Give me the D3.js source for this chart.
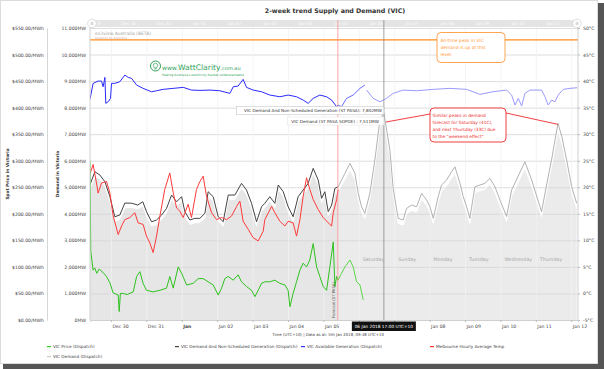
<!DOCTYPE html>
<html><head><meta charset="utf-8">
<script src="https://cdn.jsdelivr.net/npm/d3@7"></script>
<style>
html,body{margin:0;padding:0;background:#fff;}
svg{display:block;}
text{font-family:"DejaVu Sans",Verdana,sans-serif;}
</style></head><body>
<svg id="chart" width="604" height="369"></svg>
<script>
// ---------------- DATA ----------------
const chartTitle = "2-week trend Supply and Demand (VIC)";
const demandTicks = d3.range(0, 11001, 1000);
const priceTicks = d3.range(0, 551, 50);
const tempTicks = d3.range(-5, 51, 5);
const weekdays = [["2018-01-06","Saturday"],["2018-01-07","Sunday"],["2018-01-08","Monday"],["2018-01-09","Tuesday"],["2018-01-10","Wednesday"],["2018-01-11","Thursday"]];
const allTimePeakMW = 10550;
const nowHour = 177.8;      // 5 Jan 2018 09:48
const cursorHour = 209;     // 6 Jan 2018 17:00
const viewHours = [9.8, 340.6];

// hours since 29 Dec 2017 00:00 (UTC+10): [hour, demand+non-scheduled MW, demand MW]
const demandHist = [[9.7,5080,4950],[13.1,5585,5420],[16.5,5460,5300],[19.9,5210,5050],[23.3,4645,4480],[26.6,3890,3720],[30.0,3954,3790],[33.4,4405,4230],[38.0,4400,4240],[42.2,4330,4180],[45.6,4455,4300],[48.1,4080,3920],[51.5,3700,3540],[54.9,3766,3600],[58.3,3954,3780],[61.7,4205,4040],[65.1,4707,4540],[68.5,4455,4300],[71.9,4645,4480],[74.1,4080,3920],[77.5,3766,3600],[80.9,3830,3660],[84.3,3830,3670],[87.7,4018,3850],[89.9,4832,4650],[93.3,4645,4480],[96.7,3890,3730],[100.1,3702,3540],[103.5,4707,4530],[108.0,4707,4540],[112.5,5148,4970],[115.9,4896,4730],[119.3,4395,4230],[122.7,3702,3540],[126.1,4268,4100],[128.3,4395,4230],[131.7,4645,4480],[135.1,4395,4230],[137.4,5084,4900],[140.8,4832,4660],[144.1,4268,4100],[147.5,3890,3720],[150.9,4645,4480],[154.3,4896,4730],[157.7,5148,4970],[161.1,5713,5530],[164.5,5272,5100],[166.8,4582,4420],[169.0,4832,4660],[171.3,4080,3920],[173.6,4331,4160],[175.8,4960,4790],[178.0,5020,4850]];
// forecast: [hour, ST PASA demand+non-scheduled MW, ST PASA SOPOE demand MW]
const demandForecast = [[178.0,5020,4850],[182.6,5524,5300],[186.0,5901,5650],[189.4,5524,5300],[191.6,4771,4560],[193.9,4268,4060],[196.1,4018,3820],[199.5,4771,4560],[202.9,6026,5780],[206.3,7532,7250],[209.0,7802,7511],[213.1,6402,6150],[215.3,4960,4740],[218.7,3830,3640],[222.1,3766,3580],[224.4,4205,4000],[227.8,4331,4130],[231.2,4268,4070],[234.6,4771,4560],[238.0,4519,4320],[240.2,4268,4070],[242.5,3830,3640],[245.8,4645,4430],[248.1,5084,4860],[251.5,5272,5040],[254.9,5585,5340],[257.2,5773,5530],[260.6,5148,4930],[262.8,4645,4430],[265.1,4268,4070],[267.3,3830,3640],[270.7,5020,4800],[274.1,5084,4860],[277.5,5148,4930],[280.9,5336,5110],[284.3,5020,4800],[287.7,4519,4320],[292.2,3900,3710],[295.6,4896,4680],[299.9,5400,5170],[304.6,5961,5710],[309.2,5272,5040],[313.4,4519,4320],[315.9,4080,3890],[319.3,5084,4860],[322.9,6100,5850],[327.0,7407,7130],[329.7,6900,6640],[332.9,6026,5780],[336.3,5020,4800],[339.7,4395,4200]];
// Melbourne hourly average temp, degC
const tempHist = [[9.7,22.4],[11.9,24.3],[14.2,20.8],[15.3,18.9],[17.6,20.8],[21.0,21.1],[23.3,18.9],[25.5,14.6],[28.9,11.1],[31.2,12.7],[33.4,13.9],[36.8,14.3],[40.2,15.2],[42.4,13.3],[45.8,13.0],[48.1,10.8],[50.4,9.5],[52.6,7.7],[54.9,10.8],[57.2,14.6],[60.5,19.6],[63.9,22.7],[66.2,19.0],[68.5,16.1],[70.7,15.5],[73.0,14.3],[76.3,16.8],[78.6,14.3],[82.0,19.6],[84.3,21.1],[86.5,22.1],[88.8,18.3],[92.2,15.2],[95.6,13.9],[99.0,14.3],[102.4,13.9],[105.8,14.6],[109.2,16.4],[111.4,17.4],[113.6,13.6],[117.0,12.1],[120.4,10.5],[123.8,9.9],[127.2,11.7],[128.3,13.9],[132.9,16.4],[135.1,15.2],[138.5,13.6],[141.9,12.7],[144.1,13.6],[147.5,13.3],[149.8,10.8],[152.1,13.9],[154.3,18.3],[156.6,21.8],[158.8,19.6],[161.1,17.7],[164.5,15.8],[167.9,14.3],[171.3,13.3],[173.6,12.7],[174.7,15.2],[177.0,17.7],[178.0,19.6]];
// VIC price $/MWh
const priceHist = [[9.8,300],[10.3,130],[11.9,94],[13.0,98],[14.4,88],[16.0,96],[18.5,90],[21.0,82],[23.3,70],[25.5,51],[28.9,47],[29.6,16],[30.4,50],[32.3,50],[35.0,48],[39.1,53],[41.4,82],[43.6,91],[45.8,69],[48.1,56],[52.6,53],[57.2,56],[61.7,60],[63.9,82],[66.2,60],[69.6,100],[71.9,88],[75.3,66],[79.7,69],[83.1,78],[86.5,78],[89.9,72],[93.3,66],[96.7,47],[99.0,60],[101.2,78],[103.5,82],[106.9,75],[110.2,85],[112.5,72],[115.9,63],[119.3,56],[121.6,44],[123.8,56],[126.1,69],[128.3,72],[131.7,72],[135.1,75],[138.5,69],[141.9,66],[144.1,56],[145.3,25],[147.5,50],[149.8,72],[152.1,94],[154.3,107],[156.6,100],[158.8,113],[161.1,144],[163.4,100],[165.6,82],[167.9,63],[170.2,56],[172.4,100],[174.7,147],[175.8,63],[177.0,82],[178.0,75]];
const priceForecast = [[178.0,75],[180.3,88],[182.6,100],[186.0,113],[188.2,100],[190.5,72],[192.8,66],[195.0,38]];
// VIC available generation MW
const availHist = [[9.8,8311],[11.9,8914],[15.3,9001],[17.6,9001],[18.7,8786],[19.9,9140],[20.5,8161],[22.1,8221],[23.7,8349],[24.4,8914],[26.6,8914],[30.0,8975],[33.4,9227],[35.7,9140],[38.0,9102],[41.4,8850],[45.8,8726],[51.5,8598],[54.9,8636],[59.4,8688],[66.2,8726],[73.0,8763],[78.6,8662],[84.3,8650],[91.1,8662],[97.8,8636],[104.6,8537],[106.9,8786],[110.2,8812],[113.6,9065],[115.9,8763],[120.4,8662],[126.1,8598],[131.7,8474],[138.5,8410],[144.1,8474],[149.8,8410],[154.3,8285],[157.7,8161],[161.1,8349],[165.6,8474],[170.2,8410],[173.6,8285],[177.0,8033],[178.0,8097]];
const availNear = [[178.0,8097],[180.3,8033],[183.7,8349],[188.2,8474],[192.8,8726],[196.1,8850]];
const availForecast = [[197.3,8662],[201.8,8349],[206.3,8221],[210.8,8349],[215.3,8537],[222.1,8662],[231.2,8636],[242.5,8688],[253.8,8726],[265.1,8688],[274.1,8500],[282.9,8600],[292.2,8662],[295.6,8474],[297.9,8097],[300.1,8349],[302.4,8059],[304.6,8537],[308.0,8662],[315.9,8662],[318.2,8410],[320.4,8097],[322.7,8285],[325.0,8221],[327.2,8474],[330.6,8688],[335.1,8726],[340.1,8750]];
const legendItems = [["VIC Price (Dispatch)","#33cc22",0],["VIC Demand And Non-Scheduled Generation (Dispatch)","#444",0],["VIC Available Generation (Dispatch)","#3333ff",0],["Melbourne Hourly Average Temp","#ff3333",0],["VIC Demand (Dispatch)","#cccccc",1]];

// ---------------- CHART ----------------
const svg = d3.select("#chart");
const W = 604, H = 369, L = 90, R = 578, TOP = 28, BOT = 320;
const T0 = new Date(2017, 11, 29, 0, 0);
const hd = h => new Date(T0.getTime() + h * 3600e3);

const x = d3.scaleTime().domain(viewHours.map(hd)).range([L, R]);
const yMW = d3.scaleLinear().domain([0, 11000]).range([BOT, TOP]);
const yP = d3.scaleLinear().domain([0, 550]).range([BOT, TOP]);
const yT = d3.scaleLinear().domain([-5, 50]).range([BOT, TOP]);
const cx = x(hd(cursorHour));

// frame
svg.append("rect").attr("width", W).attr("height", H).attr("fill", "#fff");
svg.append("rect").attr("x", 598).attr("y", 3).attr("width", 6).attr("height", 366).attr("fill", "#555");
svg.append("rect").attr("x", 3).attr("y", 364).attr("width", 601).attr("height", 5).attr("fill", "#555");
svg.append("rect").attr("x", 0.5).attr("y", 0.5).attr("width", 597).attr("height", 363).attr("fill", "#fff").attr("stroke", "#dcdcdc");

svg.append("text").attr("x", 335).attr("y", 12.5).attr("text-anchor", "middle")
  .attr("font-size", 6.3).attr("font-weight", "bold").attr("fill", "#333").text(chartTitle);

// top range band
svg.append("rect").attr("x", L).attr("y", 20).attr("width", R - L).attr("height", 7).attr("fill", "#e4e4e4");
const bandG = svg.append("g");
d3.timeDay.range(hd(0), hd(342)).forEach(d => {
  const xm = x(new Date(d.getTime() + 12 * 3600e3));
  if (xm < L + 2 || xm > R - 2) return;
  bandG.append("text").attr("x", xm).attr("y", 25.4).attr("text-anchor", "middle")
    .attr("font-size", 4.2).attr("fill", "#fbfbfb").text(d3.timeFormat("%b %d")(d));
});
[L + 2, R - 1].forEach(hx => {
  svg.append("circle").attr("cx", hx).attr("cy", 23.5).attr("r", 4.3).attr("fill", "#fff").attr("stroke", "#c8c8c8").attr("stroke-width", 0.6);
  svg.append("line").attr("x1", hx - 0.8).attr("x2", hx - 0.8).attr("y1", 21.8).attr("y2", 25.2).attr("stroke", "#999").attr("stroke-width", 0.5);
  svg.append("line").attr("x1", hx + 0.8).attr("x2", hx + 0.8).attr("y1", 21.8).attr("y2", 25.2).attr("stroke", "#999").attr("stroke-width", 0.5);
});

// clip
svg.append("clipPath").attr("id", "clip").append("rect").attr("x", L).attr("y", 27).attr("width", R - L).attr("height", BOT - 27);
const plot = svg.append("g").attr("clip-path", "url(#clip)");

// areas
const areaDem = d3.area().x(d => x(hd(d[0]))).y0(BOT).y1(d => yMW(d[2]));
plot.append("path").datum(demandHist).attr("d", areaDem).attr("fill", "#e6e6e6");
plot.append("path").datum(demandForecast).attr("d", areaDem).attr("fill", "#ebebeb");

// gridlines
const gridY = d3.axisLeft(yMW).tickValues(demandTicks).tickSize(-(R - L)).tickFormat("");
plot.append("g").attr("transform", `translate(${L},0)`).call(gridY)
  .call(g => g.select(".domain").remove())
  .call(g => g.selectAll("line").attr("stroke", "#d6d6d6").attr("stroke-width", 0.8));
const gridX = d3.axisBottom(x).ticks(d3.timeDay.every(1)).tickSize(-(BOT - 27)).tickFormat("");
plot.append("g").attr("transform", `translate(0,${BOT})`).call(gridX)
  .call(g => g.select(".domain").remove())
  .call(g => g.selectAll("line").attr("stroke", "#f1f1f1").attr("stroke-width", 0.8));

// orange all-time peak line
plot.append("line").attr("x1", L).attr("x2", R).attr("y1", yMW(allTimePeakMW)).attr("y2", yMW(allTimePeakMW))
  .attr("stroke", "#ff8c1a").attr("stroke-width", 1.2);

// lines
const lineOf = (ys, idx) => d3.line().x(d => x(hd(d[0]))).y(d => ys(d[idx]));
plot.append("path").datum(demandHist).attr("d", lineOf(yMW, 2)).attr("fill", "none").attr("stroke", "#fff").attr("stroke-width", 1);
plot.append("path").datum(demandForecast).attr("d", lineOf(yMW, 2)).attr("fill", "none").attr("stroke", "#fff").attr("stroke-width", 1);
plot.append("path").datum(demandForecast).attr("d", lineOf(yMW, 1)).attr("fill", "none").attr("stroke", "#a9a9a9").attr("stroke-width", 0.9);
plot.append("path").datum(demandHist).attr("d", lineOf(yMW, 1)).attr("fill", "none").attr("stroke", "#444").attr("stroke-width", 1);
plot.append("path").datum(tempHist).attr("d", lineOf(yT, 1)).attr("fill", "none").attr("stroke", "#ff3a3a").attr("stroke-width", 1);
plot.append("path").datum(priceForecast).attr("d", lineOf(yP, 1)).attr("fill", "none").attr("stroke", "#5cd64a").attr("stroke-width", 1);
plot.append("path").datum(priceHist).attr("d", lineOf(yP, 1)).attr("fill", "none").attr("stroke", "#2dc21e").attr("stroke-width", 1);
plot.append("path").datum(availForecast).attr("d", lineOf(yMW, 1)).attr("fill", "none").attr("stroke", "#9a9aff").attr("stroke-width", 1);
plot.append("path").datum(availNear).attr("d", lineOf(yMW, 1)).attr("fill", "none").attr("stroke", "#6a6aff").attr("stroke-width", 1);
plot.append("path").datum(availHist).attr("d", lineOf(yMW, 1)).attr("fill", "none").attr("stroke", "#2a2aff").attr("stroke-width", 1);

// now line & cursor line
svg.append("line").attr("x1", x(hd(nowHour))).attr("x2", x(hd(nowHour))).attr("y1", 20).attr("y2", BOT)
  .attr("stroke", "#ff8f8f").attr("stroke-width", 0.8);
svg.append("line").attr("x1", cx).attr("x2", cx).attr("y1", 20).attr("y2", BOT)
  .attr("stroke", "#8a8a8a").attr("stroke-width", 0.8);

// weekday labels
weekdays.forEach(([ds, name]) => {
  const d = new Date(+ds.slice(0, 4), +ds.slice(5, 7) - 1, +ds.slice(8, 10));
  svg.append("text").attr("x", x(d) + 4).attr("y", 260.5).attr("font-size", 4.8).attr("fill", "#a8a8a8").text(name);
});

// axes
const axDem = d3.axisLeft(yMW).tickValues(demandTicks).tickSize(0).tickPadding(4)
  .tickFormat(d => d3.format(",")(d) + "MW");
svg.append("g").attr("transform", `translate(${L},0)`).call(axDem)
  .call(g => g.select(".domain").attr("stroke", "#cfcfcf").attr("d", `M0,27V${BOT}`))
  .call(g => g.selectAll("text").attr("font-size", 4.6).attr("fill", "#444").attr("font-family", "DejaVu Sans"));
const axPrice = d3.axisLeft(yP).tickValues(priceTicks).tickSize(0).tickPadding(3)
  .tickFormat(d => "$" + d.toFixed(2) + "/MWh");
svg.append("g").attr("transform", `translate(47,0)`).call(axPrice)
  .call(g => g.select(".domain").attr("stroke", "#d6d6d6"))
  .call(g => g.selectAll("text").attr("font-size", 4.6).attr("fill", "#444").attr("font-family", "DejaVu Sans"));
const axTemp = d3.axisRight(yT).tickValues(tempTicks).tickSize(2).tickPadding(3)
  .tickFormat(d => d + "°C");
svg.append("g").attr("transform", `translate(${R},0)`).call(axTemp)
  .call(g => g.select(".domain").attr("stroke", "#cfcfcf").attr("d", `M0,27V${BOT}`))
  .call(g => g.selectAll("line").attr("stroke", "#bbb"))
  .call(g => g.selectAll("text").attr("font-size", 4.6).attr("fill", "#444").attr("font-family", "DejaVu Sans"));
// labels hidden by the cursor's date box are not drawn
const axX = d3.axisBottom(x).ticks(d3.timeDay.every(1)).tickSize(2).tickPadding(3)
  .tickFormat(d => (x(d) > cx - 40 && x(d) < cx + 32) ? "" : (d.getDate() === 1 ? "Jan" : d3.timeFormat("%b %d")(d)));
svg.append("g").attr("transform", `translate(0,${BOT})`).call(axX)
  .call(g => g.select(".domain").attr("stroke", "#cfcfcf"))
  .call(g => g.selectAll("line").attr("stroke", "#bbb"))
  .call(g => g.selectAll("text").attr("font-size", 4.6).attr("fill", "#444").attr("text-anchor", "start").attr("dx", 1)
    .attr("font-family", "DejaVu Sans").attr("font-weight", d => d.getDate() === 1 ? "bold" : "normal"));

// axis titles
svg.append("text").attr("transform", `translate(9,${(TOP + BOT) / 2}) rotate(-90)`).attr("text-anchor", "middle")
  .attr("font-size", 4.3).attr("font-weight", "bold").attr("fill", "#333").text("Spot Price in Victoria");
svg.append("text").attr("transform", `translate(59,${(TOP + BOT) / 2}) rotate(-90)`).attr("text-anchor", "middle")
  .attr("font-size", 4.3).attr("font-weight", "bold").attr("fill", "#333").text("Demand in Victoria");

// forecast marker text
svg.append("text").attr("transform", `translate(${x(hd(nowHour)) - 3},300) rotate(-90)`).attr("text-anchor", "middle")
  .attr("font-size", 3.8).attr("fill", "#555").text("Forecast (ST PASA)");

// cursor x label
svg.append("rect").attr("x", cx - 32).attr("y", 321.5).attr("width", 64).attr("height", 9.5).attr("fill", "#111");
svg.append("text").attr("x", cx).attr("y", 327.8).attr("text-anchor", "middle").attr("font-size", 4.3).attr("fill", "#fff")
  .text("06 Jan 2018 17:00 UTC+10");

// tooltips
const tip1 = "VIC Demand And Non-Scheduled Generation (ST PASA): " + d3.format(",")(demandForecast[10][1]) + "MW";
const tip2 = "VIC Demand (ST PASA SOPOE) : " + d3.format(",")(demandForecast[10][2]) + "MW";
svg.append("rect").attr("x", 236.5).attr("y", 106.5).attr("width", cx - 236.5).attr("height", 8).attr("fill", "#fff").attr("stroke", "#bdbdbd").attr("stroke-width", 0.5);
svg.append("text").attr("x", cx - 2).attr("y", 112).attr("text-anchor", "end").attr("font-size", 4.2).attr("fill", "#333").text(tip1);
svg.append("rect").attr("x", 287.5).attr("y", 117).attr("width", cx - 287.5).attr("height", 8).attr("fill", "#fff").attr("stroke", "#e0e0e0").attr("stroke-width", 0.5);
svg.append("text").attr("x", cx - 5).attr("y", 122.5).attr("text-anchor", "end").attr("font-size", 4.2).attr("fill", "#333").text(tip2);

// ez2view label
svg.append("text").attr("x", 95).attr("y", 35).attr("font-size", 4.5).attr("fill", "#a5a5a5").text("ez2view Australia (BETA)");
svg.append("text").attr("x", 95).attr("y", 39).attr("font-size", 3).attr("fill", "#d4b0b0").text("powered by ez2trend");

// WattClarity logo
const lg = svg.append("g");
lg.append("circle").attr("cx", 155.5).attr("cy", 66).attr("r", 5).attr("fill", "none").attr("stroke", "#2fa35a").attr("stroke-width", 1);
lg.append("path").attr("d", "M153.3,65.5 a2.2,2.2 0 1,1 4.4,0 c0,1 -1,1.4 -1,2.4 h-2.4 c0,-1 -1,-1.4 -1,-2.4z M154.4,68.8h2.2").attr("fill", "none").attr("stroke", "#2fa35a").attr("stroke-width", 0.7);
const lt = lg.append("text").attr("x", 162).attr("y", 70).attr("fill", "#2fa35a");
lt.append("tspan").attr("font-size", 6).text("www.");
lt.append("tspan").attr("font-size", 7.6).text("WattClarity");
lt.append("tspan").attr("font-size", 5).text(".com.au");
lg.append("text").attr("x", 162).attr("y", 75.5).attr("font-size", 3.1).attr("fill", "#2fa35a")
  .text("Making Australia's electricity market understandable");

// orange annotation
svg.append("rect").attr("x", 437).attr("y", 32.5).attr("width", 68).attr("height", 30).attr("rx", 4)
  .attr("fill", "#fff").attr("stroke", "#ff9a3c").attr("stroke-width", 0.9);
["All-time peak in VIC", "demand is up at this", "level."].forEach((t, i) => {
  svg.append("text").attr("x", 440.5).attr("y", 41.5 + i * 7.3).attr("font-size", 4.4).attr("fill", "#ff9a3c").text(t);
});

// red annotation
svg.append("line").attr("x1", 386).attr("y1", 122).attr("x2", 430).attr("y2", 114).attr("stroke", "#ee2a2a").attr("stroke-width", 0.9);
svg.append("line").attr("x1", 506).attr("y1", 113).attr("x2", x(hd(327.0))).attr("y2", yMW(demandForecast[46][1]) + 1).attr("stroke", "#ee2a2a").attr("stroke-width", 0.9);
svg.append("rect").attr("x", 430).attr("y", 108).attr("width", 76).attr("height", 34).attr("rx", 4)
  .attr("fill", "#fff").attr("stroke", "#ee2a2a").attr("stroke-width", 0.9);
["Similar peaks in demand", "forecast for Saturday (41C),", "and next Thursday (33C) due", "to the \u201cweekend effect\u201d"].forEach((t, i) => {
  svg.append("text").attr("x", 432.5).attr("y", 116.5 + i * 7.3).attr("font-size", 4.3).attr("fill", "#ee2a2a").text(t);
});

// time caption
svg.append("text").attr("x", 384).attr("y", 336).attr("text-anchor", "end").attr("font-size", 3.9).attr("fill", "#444")
  .text("Time (UTC+10) | Data as at: 5th Jan 2018, 09:48 UTC+10");

// legend
const legPos = [[47, 348], [175, 348], [301, 348], [430, 348], [47, 358]];
legendItems.forEach(([label, color], i) => {
  const [lx, ly] = legPos[i];
  svg.append("line").attr("x1", lx).attr("x2", lx + 4).attr("y1", ly - 1.4).attr("y2", ly - 1.4).attr("stroke", color).attr("stroke-width", 1.2);
  svg.append("text").attr("x", lx + 6).attr("y", ly).attr("font-size", 4.2).attr("fill", "#444").text(label);
});
</script></body></html>
